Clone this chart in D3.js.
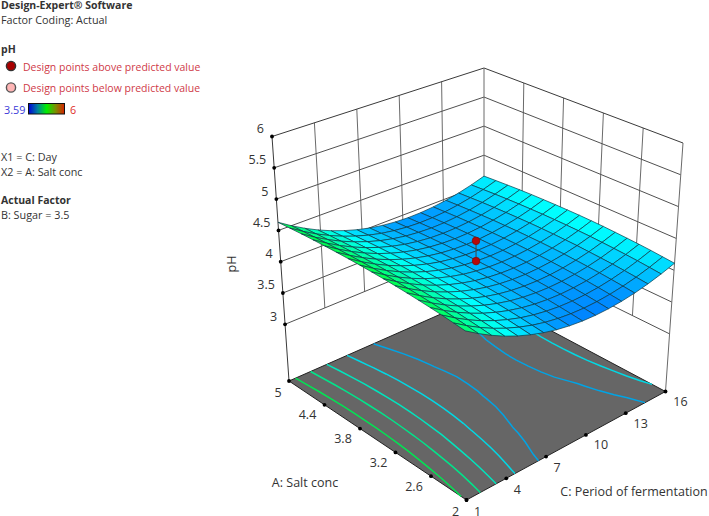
<!DOCTYPE html>
<html><head><meta charset="utf-8">
<style>
html,body{margin:0;padding:0;background:#fff}
svg{display:block}
text{font-family:"Open Sans","Noto Sans",sans-serif;fill:#333;font-size:12.5px}
</style>
<script src="https://d3js.org/d3.v7.min.js"></script>
</head><body><svg id="c" width="709" height="516"></svg>
<script>
// ---- data ----
const dayTicks=[1,4,7,10,13,16];
const saltTicks=[5,4.4,3.8,3.2,2.6,2];
const phTicks=[3,3.5,4,4.5,5,5.5,6];
const contourLevels=[4.0,4.13,4.27,4.41,4.56];
const pointDay=[8.5,8.5];
const pointSalt=[3.5,3.5];
const pointPh=[4.48,4.16];
// surface grid: columns are days, rows are salt concentrations
const gridDays=[1,1.9375,2.875,3.8125,4.75,5.6875,6.625,7.5625,8.5,9.4375,10.375,11.3125,12.25,13.1875,14.125,15.0625,16];
const gridSalts=[5,4.8125,4.625,4.4375,4.25,4.0625,3.875,3.6875,3.5,3.3125,3.125,2.9375,2.75,2.5625,2.375,2.1875,2];
const phSalt5   =[4.630,4.500,4.383,4.279,4.189,4.112,4.048,3.997,3.960,3.936,3.925,3.928,3.944,3.973,4.015,4.071,4.140];
const phSalt481 =[4.641,4.511,4.394,4.291,4.201,4.124,4.060,4.009,3.973,3.949,3.938,3.941,3.957,3.987,4.029,4.085,4.154];
const phSalt463 =[4.651,4.521,4.405,4.301,4.212,4.135,4.071,4.021,3.984,3.961,3.950,3.953,3.970,3.999,4.042,4.098,4.167];
const phSalt444 =[4.658,4.529,4.412,4.309,4.219,4.143,4.080,4.029,3.993,3.969,3.959,3.963,3.979,4.009,4.051,4.108,4.178];
const phSalt425 =[4.663,4.534,4.418,4.314,4.225,4.149,4.086,4.036,3.999,3.976,3.966,3.970,3.987,4.017,4.059,4.116,4.186];
const phSalt406 =[4.665,4.536,4.420,4.317,4.228,4.152,4.089,4.039,4.003,3.980,3.970,3.974,3.991,4.021,4.064,4.121,4.191];
const phSalt388 =[4.666,4.537,4.421,4.319,4.230,4.154,4.091,4.041,4.006,3.983,3.973,3.977,3.994,4.025,4.068,4.125,4.195];
const phSalt369 =[4.664,4.535,4.420,4.317,4.229,4.153,4.090,4.041,4.005,3.983,3.973,3.977,3.995,4.025,4.069,4.126,4.196];
const phSalt35  =[4.660,4.532,4.416,4.314,4.225,4.150,4.088,4.038,4.003,3.980,3.971,3.976,3.993,4.024,4.067,4.125,4.196];
const phSalt331 =[4.654,4.526,4.411,4.308,4.220,4.145,4.083,4.034,3.998,3.976,3.967,3.972,3.990,4.020,4.064,4.122,4.193];
const phSalt313 =[4.646,4.518,4.403,4.301,4.213,4.138,4.076,4.027,3.992,3.970,3.961,3.966,3.984,4.015,4.059,4.117,4.188];
const phSalt294 =[4.635,4.507,4.392,4.290,4.202,4.128,4.066,4.017,3.982,3.960,3.951,3.956,3.974,4.005,4.049,4.108,4.179];
const phSalt275 =[4.622,4.494,4.380,4.278,4.190,4.116,4.054,4.005,3.970,3.949,3.940,3.945,3.964,3.995,4.039,4.098,4.169];
const phSalt256 =[4.608,4.481,4.366,4.265,4.177,4.103,4.041,3.993,3.958,3.937,3.928,3.934,3.952,3.984,4.028,4.087,4.158];
const phSalt238 =[4.591,4.464,4.349,4.248,4.161,4.087,4.025,3.977,3.943,3.921,3.913,3.919,3.937,3.969,4.014,4.073,4.144];
const phSalt219 =[4.571,4.444,4.330,4.229,4.142,4.068,4.006,3.958,3.924,3.903,3.895,3.901,3.920,3.952,3.997,4.056,4.127];
const phSalt2   =[4.550,4.423,4.309,4.208,4.121,4.048,3.987,3.939,3.905,3.884,3.876,3.882,3.901,3.933,3.979,4.038,4.110];
const phGrid=[phSalt5,phSalt481,phSalt463,phSalt444,phSalt425,phSalt406,phSalt388,phSalt369,phSalt35,phSalt331,phSalt313,phSalt294,phSalt275,phSalt256,phSalt238,phSalt219,phSalt2];

// ---- projection: the box's eight projected corners, blended through scales ----
const floorPh=2.094;
const aScale=d3.scaleLinear().domain([1,16]).range([0,1]);
const sScale=d3.scaleLinear().domain([5,2]).range([0,1]);
const cScale=d3.scaleLinear().domain([floorPh,6]).range([0,1]);
const cam={
 floor:{L:[289,381],B:[484,295],F:[466.5,500],R:[665.5,391.5]},
 top:{L:[272,136.5],B:[484,68],F:[464.5,231],R:[683,143]}
};
function corner(pl,a,s,i){
  const p=cam[pl];
  const l=d3.interpolateNumber(p.L[i],p.B[i])(a), r=d3.interpolateNumber(p.F[i],p.R[i])(a);
  return d3.interpolateNumber(l,r)(s);
}
function proj(day,salt,ph){
  const a=aScale(day),s=sScale(salt),c=cScale(ph);
  return [0,1].map(i=>corner("floor",a,s,i)*(1-c)+corner("top",a,s,i)*c);
}
const svg=d3.select("#c");
const line=d3.line();
const surfaceColor=d3.scaleLinear().domain([3.59,4.16,4.795,5.395,6])
  .range(["#0000ff","#00ffff","#00ff00","#ffff00","#ff0000"]);

// ---- walls ----
const wall=svg.append("g").attr("fill","none");
function wl(pts,stroke,w){wall.append("path").attr("d",line(pts)).attr("stroke",stroke).attr("stroke-width",w||1);}
const gridC="#6a6a6a",edgeC="#3a3a3a";
dayTicks.forEach(d=>{ if(d>1&&d<16) wl([proj(d,5,3),proj(d,5,6)],gridC); });
saltTicks.forEach(v=>{ if(v>2&&v<5) wl([proj(16,v,3),proj(16,v,6)],gridC); });
phTicks.forEach(p=>{
  const st=p===6?edgeC:"#505050";
  wl([proj(1,5,p),proj(16,5,p),proj(16,2,p)],st);
});
wl([proj(1,5,floorPh),proj(1,5,6)],edgeC);
wl([proj(16,5,floorPh),proj(16,5,6)],gridC);
wl([proj(16,2,floorPh),proj(16,2,6)],gridC);

// ---- floor + contours ----
const floorPts=[proj(1,5,floorPh),proj(16,5,floorPh),proj(16,2,floorPh),proj(1,2,floorPh)];
svg.append("path").attr("d",line(floorPts)+"Z").attr("fill","#666666").attr("stroke","#222").attr("stroke-width",1);
const n=gridDays.length,m=gridSalts.length;
const gx=d3.scaleLinear().domain([0.5,n-0.5]).range([1,16]);
const gy=d3.scaleLinear().domain([0.5,m-0.5]).range([5,2]);
const contours=d3.contours().size([n,m]).thresholds(contourLevels).smooth(true)(phGrid.flat());
contours.forEach(ct=>{
  const col=d3.color(surfaceColor(ct.value)).darker(0.3).formatHex();
  ct.coordinates.forEach(poly=>poly.forEach(ring=>{
    let seg=[];
    const flush=()=>{ if(seg.length>1) svg.append("path").attr("d",line(seg)).attr("fill","none").attr("stroke",col).attr("stroke-width",1.5); seg=[]; };
    // start the walk at an outside point so no segment is cut in two
    let start=ring.findIndex(p=>p[0]<0.5-1e-6||p[0]>n-0.5+1e-6||p[1]<0.5-1e-6||p[1]>m-0.5+1e-6);
    if(start<0) start=0;
    for(let k=0;k<ring.length;k++){
      const p=ring[(start+k)%ring.length];
      const out=p[0]<0.5-1e-6||p[0]>n-0.5+1e-6||p[1]<0.5-1e-6||p[1]>m-0.5+1e-6;
      if(out) flush(); else seg.push(proj(gx(p[0]),gy(p[1]),floorPh));
    }
    flush();
  }));
});

// ---- surface, far cells first ----
const cells=[];
for(let j=0;j<m-1;j++)for(let i=0;i<n-1;i++)cells.push({i,j});
cells.sort((u,v)=>(u.j-u.i)-(v.j-v.i));
svg.append("g").selectAll("path").data(cells).join("path")
  .attr("d",({i,j})=>line([[i,j],[i+1,j],[i+1,j+1],[i,j+1]].map(([x,y])=>proj(gridDays[x],gridSalts[y],phGrid[y][x])))+"Z")
  .attr("fill",({i,j})=>surfaceColor(d3.mean([phGrid[j][i],phGrid[j][i+1],phGrid[j+1][i],phGrid[j+1][i+1]])))
  .attr("stroke","#0c3a46").attr("stroke-width",0.7).attr("stroke-linejoin","round");

// ---- design points ----
const pts=pointPh.map((p,k)=>proj(pointDay[k],pointSalt[k],p));
svg.append("path").attr("d",line(pts)).attr("stroke","#444").attr("stroke-width",1).attr("fill","none");
svg.selectAll("circle.pt").data(pts).join("circle").attr("class","pt")
  .attr("cx",d=>d[0]).attr("cy",d=>d[1]).attr("r",3.8).attr("fill","#b80808").attr("stroke","#7a1010").attr("stroke-width",0.8);

// ---- ticks ----
function tick(p,label,dx,dy){
  svg.append("circle").attr("cx",p[0]).attr("cy",p[1]).attr("r",1.9).attr("fill","#000");
  svg.append("text").attr("x",p[0]+dx).attr("y",p[1]+dy).attr("text-anchor","middle").attr("dominant-baseline","central").text(label);
}
phTicks.forEach(p=>{
  svg.append("circle").attr("cx",proj(1,5,p)[0]).attr("cy",proj(1,5,p)[1]).attr("r",1.9).attr("fill","#000");
  svg.append("text").attr("x",proj(1,5,p)[0]-8).attr("y",proj(1,5,p)[1]-8).attr("text-anchor","end").attr("dominant-baseline","central").text(p);
});
saltTicks.forEach(v=>{ const w=(v===5||v===2); tick(proj(1,v,floorPh),v,w?-11:-17,w?11:10); });
dayTicks.forEach(d=>{ const w=d<10; tick(proj(d,2,floorPh),d,w?11:15,w?11:10); });

// ---- axis titles ----
svg.append("text").attr("transform","translate(231,264) rotate(-90)").attr("text-anchor","middle").attr("dominant-baseline","central").text("pH");
svg.append("text").attr("x",305).attr("y",482).attr("text-anchor","middle").attr("dominant-baseline","central").text("A: Salt conc");
svg.append("text").attr("x",634).attr("y",491).attr("text-anchor","middle").attr("dominant-baseline","central").text("C: Period of fermentation");

// ---- legend ----
function note(x,y,t,o={}){
  const e=svg.append("text").attr("x",x).attr("y",y).attr("dominant-baseline","central").style("font-size",(o.size||10.8)+"px").text(t);
  if(o.bold) e.style("font-weight","700").style("font-size","10.5px");
  if(o.fill) e.style("fill",o.fill);
}
note(1,5,"Design-Expert® Software",{bold:true});
note(1,19,"Factor Coding: Actual");
note(1,49,"pH",{bold:true});
svg.append("circle").attr("cx",11).attr("cy",66).attr("r",4.6).attr("fill","#a80000").attr("stroke","#333").attr("stroke-width",1.4);
note(23,67,"Design points above predicted value",{fill:"#cf3a48",size:10.5});
svg.append("circle").attr("cx",11).attr("cy",87.5).attr("r",4.6).attr("fill","#ffb6b6").attr("stroke","#555").attr("stroke-width",1.4);
note(23,88,"Design points below predicted value",{fill:"#cf3a48",size:10.5});
note(4,109,"3.59",{fill:"#3a3ad8"});
note(70,109,"6",{fill:"#e0302a"});
const defs=svg.append("defs");
const grad=defs.append("linearGradient").attr("id","lg");
[["0%","#0000d8"],["25%","#0080a0"],["50%","#00ee00"],["75%","#7a9000"],["100%","#d82000"]].forEach(([o,c])=>grad.append("stop").attr("offset",o).attr("stop-color",c));
svg.append("rect").attr("x",28.5).attr("y",103.5).attr("width",36).attr("height",10.5).attr("fill","url(#lg)").attr("stroke","#111").attr("stroke-width",1);
note(1,156,"X1 = C: Day");
note(1,171,"X2 = A: Salt conc");
note(1,200,"Actual Factor",{bold:true});
note(1,214,"B: Sugar = 3.5");
</script></body></html>
